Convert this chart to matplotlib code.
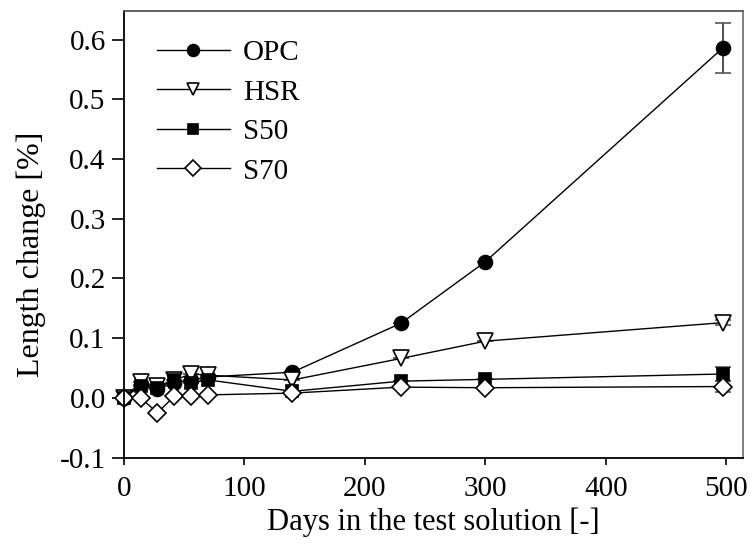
import numpy as np
import matplotlib.pyplot as plt

# dados
days = [0, 14, 28, 42, 56, 70, 140, 230, 300, 497]
opc = [0, 0.022, 0.015, 0.025, 0.03, 0.035, 0.043, 0.125, 0.228, 0.586]
hsr = [0, 0.026, 0.02, 0.03, 0.04, 0.038, 0.03, 0.066, 0.095, 0.126]
s50 = [0, 0.02, 0.016, 0.03, 0.025, 0.03, 0.011, 0.028, 0.031, 0.04]
s70 = [0, 0.0, -0.025, 0.003, 0.003, 0.005, 0.008, 0.018, 0.017, 0.019]
opc_err = [0, 0, 0, 0, 0, 0, 0, 0, 0, 0.042]
hsr_err = [0, 0, 0, 0, 0, 0, 0, 0, 0, 0.004]
s50_err = [0, 0, 0, 0, 0, 0, 0, 0, 0, 0.012]
s70_err = [0, 0, 0, 0, 0, 0, 0, 0, 0, 0.01]

plt.rcParams['font.family'] = ['Liberation Serif', 'DejaVu Serif']

fig = plt.figure(figsize=(7.5, 5.48), dpi=100)
ax = fig.add_axes([0.165, 0.165, 0.826, 0.815])

series = [
    ('OPC', opc, opc_err, 'o', 'black', 10),
    ('HSR', hsr, hsr_err, 'v', 'white', 11),
    ('S50', s50, s50_err, 's', 'black', 8.5),
    ('S70', s70, s70_err, 'D', 'white', 9.5),
]
for name, vals, err, mk, fc, ms in series:
    ax.errorbar(days, vals, yerr=err, marker=mk, markersize=ms, markerfacecolor=fc,
                markeredgecolor='black', markeredgewidth=1.2, color='black', lw=1,
                ecolor='#555555', elinewidth=1.5, capsize=6, capthick=1.5,
                label=name, clip_on=False)

ax.set_xlim(0, 514)
ax.set_ylim(-0.1, 0.648)
ax.set_xticks([0, 100, 200, 300, 400, 500])
ax.set_yticks(np.arange(-0.1, 0.61, 0.1))
ax.set_yticklabels(['-0.1', '0.0', '0.1', '0.2', '0.3', '0.4', '0.5', '0.6'])
ax.tick_params(axis='y', direction='out', length=9, width=1.2, labelsize=21, pad=4)
ax.tick_params(axis='x', direction='out', length=5, width=1.2, labelsize=21, pad=8)
for sp in ax.spines.values():
    sp.set_linewidth(1.3)
ax.spines['right'].set_color('#777777')
ax.spines['top'].set_color('#555555')

ax.set_xlabel('Days in the test solution [-]', fontsize=22, labelpad=4)
ax.set_ylabel('Length change [%]', fontsize=23)
ax.yaxis.set_label_coords(-0.126, 0.455)

handles, labels = ax.get_legend_handles_labels()
handles = [h[0] for h in handles]
ax.legend(handles, labels, loc='upper left', bbox_to_anchor=(0.025, 0.975), frameon=False,
          fontsize=21, handlelength=2.5, markerscale=0.85, labelspacing=0.45,
          handletextpad=0.45, borderaxespad=0.2)

plt.savefig('out.png', dpi=100)
